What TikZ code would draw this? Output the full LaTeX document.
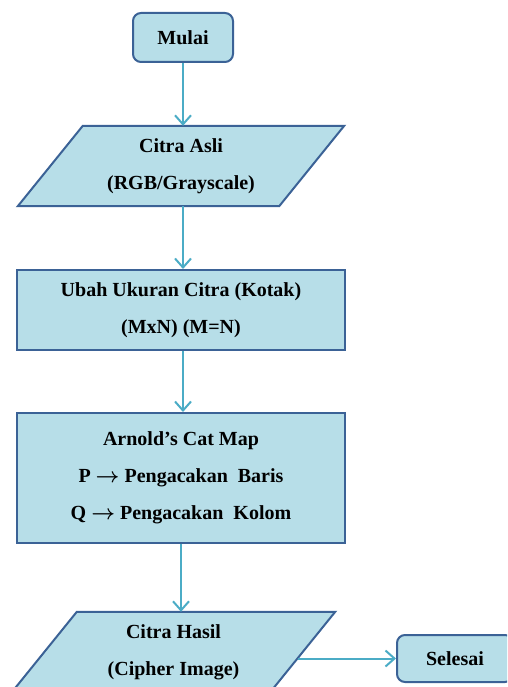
\documentclass[tikz,border=0pt]{standalone}
\usepackage{fontspec}
\setmainfont{Liberation Serif}
\usetikzlibrary{arrows.meta,backgrounds}
\definecolor{boxfill}{HTML}{B7DEE8}
\definecolor{boxline}{HTML}{3B6296}
\definecolor{flow}{HTML}{4BACC6}
\newcommand{\maparrow}{\ensuremath{\boldsymbol{\rightarrow}}}
\tikzset{
  label text/.style={font=\fontsize{20}{37}\selectfont\bfseries, align=center, inner sep=0pt},
  base/.style={label text, fill=boxfill, draw=boxline, line width=2pt},
  terminal/.style={base, rounded corners=8pt, minimum width=100pt, minimum height=49pt},
  process/.style={base, minimum width=328pt},
  iobox/.style={label text, minimum width=261pt, minimum height=80pt},
  ioshape/.style={fill=boxfill, draw=boxline, line width=2pt, line join=miter},
  flowline/.style={draw=flow, line width=2pt, -{Straight Barb[length=9pt,width=16pt,line width=2pt]}}
}
\usepackage{amsmath,amssymb}
\begin{document}
\begin{tikzpicture}[x=1pt,y=-1pt]
  \useasboundingbox (0,0) rectangle (507,687);
  \clip (0,0) rectangle (507,687);

  % flow nodes
  \node[terminal] (m) at (183,37.5) {Mulai};
  \node[iobox] (p1) at (181,166) {Citra Asli\\(RGB/Grayscale)};
  \node[process, minimum height=80pt] (r2) at (181,310) {Ubah Ukuran Citra (Kotak)\\(MxN) (M=N)};
  \node[process, minimum height=130pt] (r3) at (181,478) {Arnold’s Cat Map\\P \maparrow{} Pengacakan\ \ Baris\\Q \maparrow{} Pengacakan\ \ Kolom};
  \node[iobox, minimum width=258pt] (p2) at (173.5,652) {Citra Hasil\\(Cipher Image)};
  \node[terminal, minimum width=116pt, minimum height=47pt] (s) at (455,658.5) {Selesai};

  % parallelogram outlines behind the input/output texts
  \begin{scope}[on background layer]
    \draw[ioshape] ([xshift=32.5pt]p1.north west) -- ([xshift=32.5pt]p1.north east)
      -- ([xshift=-32.5pt]p1.south east) -- ([xshift=-32.5pt]p1.south west) -- cycle;
    \draw[ioshape] ([xshift=32.5pt]p2.north west) -- ([xshift=32.5pt]p2.north east)
      -- ([xshift=-32.5pt]p2.south east) -- ([xshift=-32.5pt]p2.south west) -- cycle;
  \end{scope}

  % exit point on the slanted right side of the output shape
  \coordinate (p2exit) at (297.5,658.5);

  % connectors
  \draw[flowline] (m.south) -- (m.south |- p1.north);
  \draw[flowline] (m.south |- p1.south) -- (m.south |- r2.north);
  \draw[flowline] (m.south |- r2.south) -- (m.south |- r3.north);
  \draw[flowline] ([xshift=-2pt]m.south |- r3.south) -- ([xshift=-2pt]m.south |- p2.north);
  \draw[flowline] (p2exit) -- (s.west);
\end{tikzpicture}
\end{document}
